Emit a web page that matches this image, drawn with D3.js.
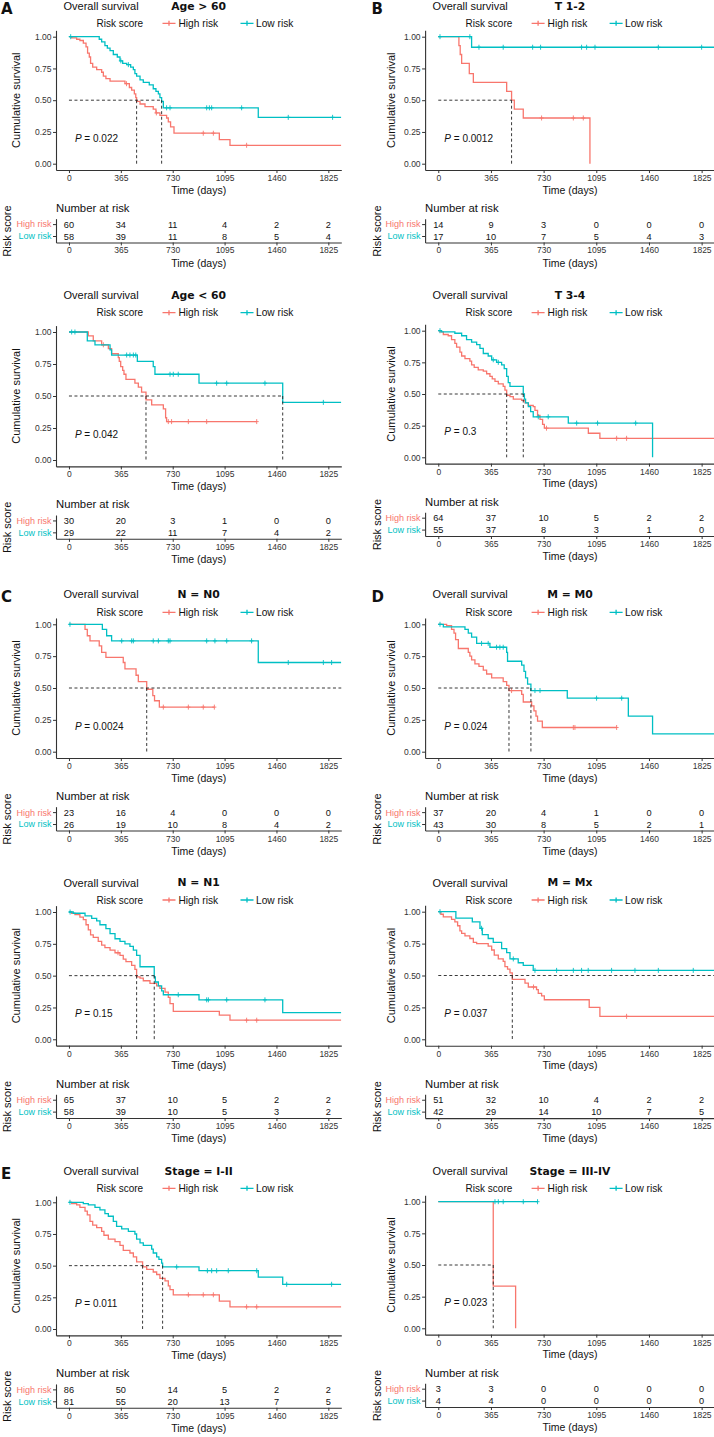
<!DOCTYPE html>
<html><head><meta charset="utf-8">
<script src="https://cdn.jsdelivr.net/npm/d3@7"></script>
<style>body{margin:0;background:#fff}svg{display:block}</style>
</head><body>
<svg id="c" width="714" height="1437"></svg>
<script>
// ---------- shared ----------
const timeTicks = [0, 365, 730, 1095, 1460, 1825];
const survTicks = [0, 0.25, 0.5, 0.75, 1];
const groups = ["High risk", "Low risk"];
const colors = ["#F8766D", "#00BFC4"];

// ---------- A: Age > 60 ----------
const ageGt60High = [[19,.99],[54,.98],[77,.97],[101,.95],[120,.92],[131,.87],[143,.84],[152,.79],[167,.76],[195,.74],[230,.72],[242,.69],[260,.67],[289,.65],[394,.63],[425,.60],[441,.58],[460,.55],[470,.52],[476,.49],[500,.47],[535,.45],[593,.43],[612,.40],[640,.38],[687,.36],[699,.33],[715,.29],[739,.24],[1058,.19],[1133,.145]];
const ageGt60Low = [[213,.98],[230,.96],[253,.93],[270,.91],[289,.89],[312,.86],[340,.84],[359,.81],[378,.79],[406,.78],[434,.76],[453,.74],[464,.71],[476,.69],[500,.66],[523,.64],[565,.62],[593,.59],[612,.57],[629,.55],[640,.52],[652,.49],[664,.44],[1332,.365]];
const ageGt60HighCens = [405, 615, 945, 1016, 1250];
const ageGt60LowCens = [12, 365, 418, 687, 711, 969, 988, 1004, 1215, 1543, 1855];
const ageGt60End = [1916, 1916];
const ageGt60Median = [476, 652, 652];
const ageGt60RiskHigh = [60, 34, 11, 4, 2, 2];
const ageGt60RiskLow = [58, 39, 11, 8, 5, 4];

// ---------- B: T 1-2 ----------
const t12High = [[143,.93],[152,.86],[162,.79],[215,.71],[243,.64],[474,.57],[508,.50],[527,.43],[589,.36],[1051,0]];
const t12Low = [[231,.917]];
const t12HighCens = [716, 936, 1005];
const t12LowCens = [12, 219, 282, 450, 654, 709, 993, 1028, 1086, 1525, 1825];
const t12End = [1051, 1916];
const t12Median = [508, null, 508];
const t12RiskHigh = [14, 9, 3, 0, 0, 0];
const t12RiskLow = [17, 10, 7, 5, 4, 3];

// ---------- Age < 60 ----------
const ageLt60High = [[136,.97],[171,.93],[230,.90],[277,.87],[300,.83],[347,.80],[354,.77],[364,.73],[378,.70],[387,.67],[401,.63],[464,.60],[488,.57],[511,.53],[542,.47],[582,.43],[664,.40],[680,.33],[687,.30]];
const ageLt60Low = [[129,.93],[183,.90],[289,.86],[300,.82],[481,.77],[593,.73],[605,.67],[915,.60],[1504,.45]];
const ageLt60HighCens = [242, 699, 722, 840, 969, 1321];
const ageLt60LowCens = [19, 42, 406, 429, 453, 470, 711, 734, 769, 1039, 1110, 1379, 1790];
const ageLt60End = [1321, 1916];
const ageLt60Median = [542, 1504, 1504];
const ageLt60RiskHigh = [30, 20, 3, 1, 0, 0];
const ageLt60RiskLow = [29, 22, 11, 7, 4, 2];

// ---------- T 3-4 ----------
const t34High = [[12,.99],[35,.97],[69,.96],[92,.93],[115,.90],[127,.87],[150,.83],[162,.80],[185,.78],[219,.76],[231,.73],[249,.71],[277,.69],[312,.68],[335,.66],[358,.64],[374,.62],[393,.60],[416,.58],[450,.56],[462,.53],[474,.49],[497,.48],[520,.46],[578,.45],[601,.43],[624,.41],[658,.40],[670,.37],[688,.33],[705,.30],[723,.26],[735,.23],[1040,.19],[1120,.15]];
const t34Low = [[23,.99],[115,.98],[162,.96],[196,.93],[231,.91],[266,.89],[289,.86],[312,.82],[346,.80],[370,.77],[404,.75],[439,.73],[457,.70],[474,.64],[485,.59],[497,.56],[589,.50],[597,.46],[605,.43],[624,.40],[640,.36],[658,.32],[901,.27],[1485,0]];
const t34HighCens = [750, 1236, 1305];
const t34LowCens = [12, 381, 416, 693, 762, 959, 1104, 1368];
const t34End = [1916, 1485];
const t34Median = [474, 589, 589];
const t34RiskHigh = [64, 37, 10, 5, 2, 2];
const t34RiskLow = [55, 37, 8, 3, 1, 0];

// ---------- C: N = N0 ----------
const n0High = [[113,.96],[129,.91],[148,.87],[213,.83],[230,.78],[260,.74],[382,.70],[394,.65],[472,.60],[488,.55],[547,.49],[590,.44],[602,.40],[636,.35]];
const n0Low = [[235,.96],[265,.91],[300,.87],[1332,.70]];
const n0HighCens = [664, 840, 945, 1023];
const n0LowCens = [7, 371, 441, 453, 593, 629, 699, 711, 969, 1027, 1110, 1285, 1543, 1790, 1848];
const n0End = [1023, 1916];
const n0Median = [547, null, 1916];
const n0RiskHigh = [23, 16, 4, 0, 0, 0];
const n0RiskLow = [26, 19, 10, 8, 4, 2];

// ---------- D: M = M0 ----------
const m0High = [[58,.99],[92,.96],[109,.93],[120,.88],[139,.81],[208,.78],[219,.75],[231,.72],[254,.69],[282,.67],[312,.64],[335,.61],[370,.58],[450,.55],[474,.52],[490,.48],[578,.45],[589,.39],[647,.36],[663,.32],[677,.28],[688,.24],[721,.19]];
const m0Low = [[35,.98],[185,.96],[208,.93],[231,.90],[266,.85],[358,.82],[474,.78],[480,.71],[578,.68],[594,.63],[605,.58],[619,.53],[642,.48],[894,.42],[1317,.28],[1485,.14]];
const m0HighCens = [508, 936, 947, 1236];
const m0LowCens = [12, 300, 346, 404, 427, 450, 670, 705, 1097, 1271];
const m0End = [1236, 1916];
const m0Median = [490, 642, 642];
const m0RiskHigh = [37, 20, 4, 1, 0, 0];
const m0RiskLow = [43, 30, 8, 5, 2, 1];

// ---------- N = N1 ----------
const n1High = [[19,.99],[42,.98],[77,.96],[101,.94],[120,.90],[136,.86],[152,.82],[171,.80],[206,.77],[230,.74],[253,.72],[289,.70],[324,.68],[359,.66],[382,.63],[401,.61],[441,.58],[464,.55],[476,.49],[500,.48],[523,.46],[570,.44],[617,.42],[640,.40],[676,.37],[699,.33],[711,.28],[734,.22],[1058,.19],[1133,.15]];
const n1Low = [[30,.99],[113,.97],[160,.95],[195,.93],[218,.90],[260,.87],[289,.83],[324,.79],[359,.77],[394,.75],[429,.73],[453,.70],[476,.66],[500,.57],[600,.49],[608,.45],[629,.42],[652,.38],[664,.35],[915,.31],[1504,.21]];
const n1HighCens = [345, 1250, 1321];
const n1LowCens = [8, 769, 969, 981, 1110, 1379];
const n1End = [1916, 1916];
const n1Median = [476, 600, 600];
const n1RiskHigh = [65, 37, 10, 5, 2, 2];
const n1RiskLow = [58, 39, 10, 5, 3, 2];

// ---------- M = Mx ----------
const mxHigh = [[18,.98],[35,.96],[92,.94],[115,.92],[134,.89],[150,.85],[162,.83],[185,.81],[219,.79],[243,.76],[266,.75],[346,.73],[370,.70],[388,.66],[416,.63],[450,.61],[462,.57],[480,.55],[497,.52],[513,.47],[601,.44],[624,.41],[681,.39],[693,.36],[716,.34],[735,.31],[1046,.25],[1120,.18]];
const mxLow = [[122,.95],[236,.92],[289,.87],[305,.82],[346,.79],[381,.76],[439,.71],[474,.68],[497,.63],[554,.60],[589,.58],[658,.54]];
const mxHighCens = [660, 1305];
const mxLowCens = [12, 300, 520, 670, 820, 936, 993, 1039, 1201, 1363, 1525, 1767];
const mxEnd = [1916, 1916];
const mxMedian = [513, null, 1916];
const mxRiskHigh = [51, 32, 10, 4, 2, 2];
const mxRiskLow = [42, 29, 14, 10, 7, 5];

// ---------- E: Stage I-II ----------
const s12High = [[19,.99],[54,.98],[77,.96],[113,.93],[129,.90],[148,.85],[167,.82],[195,.80],[230,.77],[246,.74],[277,.71],[324,.69],[359,.66],[382,.62],[429,.60],[453,.57],[476,.53],[518,.49],[547,.47],[593,.45],[617,.43],[640,.40],[676,.38],[699,.34],[711,.31],[734,.27],[1058,.22],[1133,.175]];
const s12Low = [[101,.99],[136,.98],[183,.96],[218,.94],[253,.91],[277,.89],[312,.85],[335,.81],[371,.79],[418,.77],[464,.75],[476,.71],[500,.68],[523,.66],[582,.63],[593,.60],[617,.57],[633,.55],[652,.52],[659,.49],[915,.46],[1332,.41],[1504,.353]];
const s12HighCens = [840, 945, 1016, 1250, 1321];
const s12LowCens = [7, 758, 974, 1004, 1039, 1121, 1321, 1532, 1848];
const s12End = [1916, 1916];
const s12Median = [518, 659, 659];
const s12RiskHigh = [86, 50, 14, 5, 2, 2];
const s12RiskLow = [81, 55, 20, 13, 7, 5];

// ---------- Stage III-IV ----------
const s34High = [[381,.333],[536,0]];
const s34Low = [];
const s34HighCens = [];
const s34LowCens = [393, 416, 450, 589, 688];
const s34End = [536, 688];
const s34Median = [381, null, 381];
const s34RiskHigh = [3, 3, 0, 0, 0, 0];
const s34RiskLow = [4, 4, 0, 0, 0, 0];

const pValues = ["0.022","0.0012","0.042","0.3","0.0024","0.024","0.15","0.037","0.011","0.023"];
const titles = ["Age > 60","T 1-2","Age < 60","T 3-4","N = N0","M = M0","N = N1","M = Mx","Stage = I-II","Stage = III-IV"];
const letters = ["A","B","","","C","D","","","E",""];

// ---------- layout (positions only) ----------
const layout = [
  {col:0, y1:36.7, y0:163.7, ty:6, ly:23.3},
  {col:1, y1:36.7, y0:163.7, ty:6, ly:23.3},
  {col:0, y1:332, y0:460, ty:295, ly:312.7},
  {col:1, y1:330.7, y0:457.3, ty:295, ly:312.7},
  {col:0, y1:624.3, y0:751.7, ty:594.3, ly:612.3},
  {col:1, y1:624.3, y0:751.7, ty:594.3, ly:612.3},
  {col:0, y1:912, y0:1039.3, ty:882.7, ly:900},
  {col:1, y1:911.7, y0:1039.3, ty:882.7, ly:900},
  {col:0, y1:1202.3, y0:1329, ty:1171, ly:1188.3},
  {col:1, y1:1201.7, y0:1328.3, ty:1171, ly:1188.3}
];
const series = [
  [ageGt60High, ageGt60Low, ageGt60HighCens, ageGt60LowCens, ageGt60End, ageGt60Median, ageGt60RiskHigh, ageGt60RiskLow],
  [t12High, t12Low, t12HighCens, t12LowCens, t12End, t12Median, t12RiskHigh, t12RiskLow],
  [ageLt60High, ageLt60Low, ageLt60HighCens, ageLt60LowCens, ageLt60End, ageLt60Median, ageLt60RiskHigh, ageLt60RiskLow],
  [t34High, t34Low, t34HighCens, t34LowCens, t34End, t34Median, t34RiskHigh, t34RiskLow],
  [n0High, n0Low, n0HighCens, n0LowCens, n0End, n0Median, n0RiskHigh, n0RiskLow],
  [m0High, m0Low, m0HighCens, m0LowCens, m0End, m0Median, m0RiskHigh, m0RiskLow],
  [n1High, n1Low, n1HighCens, n1LowCens, n1End, n1Median, n1RiskHigh, n1RiskLow],
  [mxHigh, mxLow, mxHighCens, mxLowCens, mxEnd, mxMedian, mxRiskHigh, mxRiskLow],
  [s12High, s12Low, s12HighCens, s12LowCens, s12End, s12Median, s12RiskHigh, s12RiskLow],
  [s34High, s34Low, s34HighCens, s34LowCens, s34End, s34Median, s34RiskHigh, s34RiskLow]
];

const FONT = "'Liberation Sans', Arial, Helvetica, sans-serif";
const BOLD = "'DejaVu Sans', Verdana, sans-serif";
const XL = [56, 425.1], XR = [341.3, 714.8], YLAB = [16.3, 391], RLAB = [6.7, 377], LET = [1, 371.5];
const svg = d3.select("#c");
const fmtInt = d3.format("d");

function stepVal(ev, t){ let s = 1; for (const [et, es] of ev){ if (et <= t) s = es; else break; } return s; }

function styleAxis(sel, fs){
  sel.attr("font-family", FONT).attr("font-size", fs);
  sel.select(".domain").attr("stroke", "#333").attr("stroke-width", 1.1);
  sel.selectAll(".tick line").attr("stroke", "#333").attr("stroke-width", 1);
  sel.selectAll(".tick text").attr("fill", "#333");
}

layout.forEach((L, i) => {
  const [hi, lo, hiC, loC, ends, med, rHi, rLo] = series[i];
  const c = L.col, xl = XL[c], xr = XR[c];
  const x = d3.scaleLinear().domain([-91.25, 1916.25]).range([xl, xr]);
  const h = L.y0 - L.y1;
  const y = d3.scaleLinear().domain([-0.05, 1.05]).range([L.y0 + 0.05*h, L.y1 - 0.05*h]);
  const axisY = y(-0.05), topY = y(1.05);
  const g = svg.append("g");

  const cid = "clip" + i;
  svg.append("clipPath").attr("id", cid).append("rect")
    .attr("x", xl).attr("y", topY - 3).attr("width", xr - xl).attr("height", axisY - topY + 3);

  if (letters[i]) g.append("text").attr("x", LET[c]).attr("y", L.ty + 7.5)
    .attr("font-family", BOLD).attr("font-weight", "bold").attr("font-size", 15).attr("fill", "#111").text(letters[i]);

  g.append("text").attr("x", xl + 7.5).attr("y", L.ty).attr("dy", "0.35em")
    .attr("font-family", FONT).attr("font-size", 11).attr("fill", "#111").text("Overall survival");
  g.append("text").attr("x", (xl + xr)/2).attr("y", L.ty).attr("dy", "0.35em").attr("text-anchor", "middle")
    .attr("font-family", BOLD).attr("font-weight", "bold").attr("font-size", 10.8).attr("fill", "#111").text(titles[i]);

  // legend
  g.append("text").attr("x", xl + 40.5).attr("y", L.ly).attr("dy", "0.35em")
    .attr("font-family", FONT).attr("font-size", 10).attr("fill", "#111").text("Risk score");
  [[106.5, 122.5], [184.5, 200]].forEach(([k, tx], gi) => {
    const cx = xl + k + 6.5;
    g.append("path").attr("d", `M${xl+k},${L.ly}h13M${cx},${L.ly-2.5}v5`)
      .attr("stroke", colors[gi]).attr("stroke-width", 1.3).attr("fill", "none");
    g.append("text").attr("x", xl + tx).attr("y", L.ly).attr("dy", "0.35em")
      .attr("font-family", FONT).attr("font-size", 10.2).attr("fill", "#111").text(groups[gi]);
  });

  // axes
  g.append("g").attr("transform", `translate(${xl},0)`)
    .call(d3.axisLeft(y).tickValues(survTicks).tickFormat(d3.format(".2f")).tickSize(3).tickPadding(1.5).tickSizeOuter(0))
    .call(s => styleAxis(s, 8.5));
  g.append("g").attr("transform", `translate(0,${axisY})`)
    .call(d3.axisBottom(x).tickValues(timeTicks).tickFormat(fmtInt).tickSize(3).tickPadding(2).tickSizeOuter(0))
    .call(s => styleAxis(s, 8.5));

  g.append("text").attr("x", (xl + xr)/2).attr("y", axisY + 20).attr("dy", "0.35em").attr("text-anchor", "middle")
    .attr("font-family", FONT).attr("font-size", 10.5).attr("fill", "#111").text("Time (days)");
  g.append("text").attr("transform", `translate(${YLAB[c]},${(L.y0 + L.y1)/2}) rotate(-90)`).attr("dy", "0.35em")
    .attr("text-anchor", "middle").attr("font-family", FONT).attr("font-size", 11).attr("fill", "#111").text("Cumulative survival");

  // curves
  const line = d3.line().x(d => x(d[0])).y(d => y(d[1])).curve(d3.curveStepAfter);
  const plot = g.append("g").attr("clip-path", `url(#${cid})`);
  [[hi, hiC], [lo, loC]].forEach(([ev, cens], gi) => {
    const last = ev.length ? ev[ev.length - 1][1] : 1;
    const pts = [[0, 1], ...ev, [ends[gi], last]];
    plot.append("path").attr("d", line(pts)).attr("fill", "none")
      .attr("stroke", colors[gi]).attr("stroke-width", 1.3);
    plot.selectAll(null).data(cens).join("path")
      .attr("d", t => `M${x(t)-2},${y(stepVal(ev, t))}h4M${x(t)},${y(stepVal(ev, t))-2.5}v5`)
      .attr("stroke", colors[gi]).attr("stroke-width", 0.9).attr("fill", "none");
  });

  // median lines
  const dash = {stroke: "#222", "stroke-width": 0.9, "stroke-dasharray": "3,2.5"};
  const hl = g.append("line").attr("x1", x(0)).attr("x2", x(med[2])).attr("y1", y(0.5)).attr("y2", y(0.5));
  Object.entries(dash).forEach(([k, v]) => hl.attr(k, v));
  [med[0], med[1]].filter(m => m !== null).forEach(m => {
    const vl = g.append("line").attr("x1", x(m)).attr("x2", x(m)).attr("y1", y(0.5)).attr("y2", y(0));
    Object.entries(dash).forEach(([k, v]) => vl.attr(k, v));
  });

  // p value
  g.append("text").attr("x", x(42)).attr("y", y(0.2)).attr("dy", "0.35em")
    .attr("font-family", FONT).attr("font-size", 10).attr("fill", "#111")
    .call(t => { t.append("tspan").attr("font-style", "italic").text("P"); t.append("tspan").text(" = " + pValues[i]); });

  // risk table
  g.append("text").attr("x", xl).attr("y", axisY + 38).attr("dy", "0.35em")
    .attr("font-family", FONT).attr("font-size", 11.3).attr("fill", "#111").text("Number at risk");
  const tb = d3.scaleBand().domain(groups).range([axisY + 48.6, axisY + 72.4]);
  g.append("g").attr("transform", `translate(${xl},0)`)
    .call(d3.axisLeft(tb).tickSize(3).tickPadding(1.5).tickSizeOuter(0))
    .call(s => { styleAxis(s, 9); s.selectAll(".tick text").attr("fill", d => colors[groups.indexOf(d)]); });
  [rHi, rLo].forEach((vals, gi) => {
    g.selectAll(null).data(vals).join("text")
      .attr("x", (v, k) => x(timeTicks[k])).attr("y", tb(groups[gi]) + tb.bandwidth()/2).attr("dy", "0.35em")
      .attr("text-anchor", "middle").attr("font-family", FONT).attr("font-size", 9.2).attr("fill", "#111").text(v => v);
  });
  g.append("g").attr("transform", `translate(0,${axisY + 72.4})`)
    .call(d3.axisBottom(x).tickValues(timeTicks).tickFormat(fmtInt).tickSize(3).tickPadding(2).tickSizeOuter(0))
    .call(s => styleAxis(s, 8.5));
  g.append("text").attr("x", (xl + xr)/2).attr("y", axisY + 93).attr("dy", "0.35em").attr("text-anchor", "middle")
    .attr("font-family", FONT).attr("font-size", 10.5).attr("fill", "#111").text("Time (days)");
  g.append("text").attr("transform", `translate(${RLAB[c]},${axisY + 61}) rotate(-90)`).attr("dy", "0.35em")
    .attr("text-anchor", "middle").attr("font-family", FONT).attr("font-size", 11).attr("fill", "#111").text("Risk score");
});
</script>
</body></html>
